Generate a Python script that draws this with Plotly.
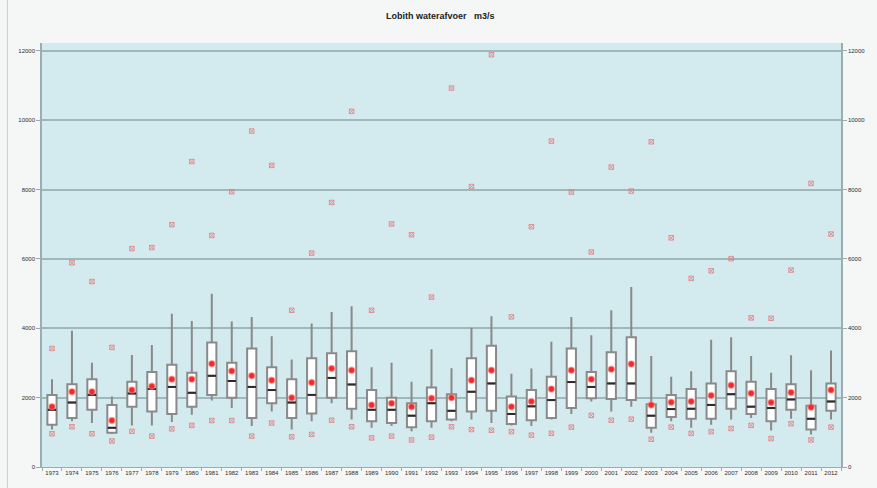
import plotly.graph_objects as go

# Yearly discharge statistics at Lobith (m3/s)
years = ["1973", "1974", "1975", "1976", "1977", "1978", "1979", "1980", "1981", "1982",
         "1983", "1984", "1985", "1986", "1987", "1988", "1989", "1990", "1991", "1992",
         "1993", "1994", "1995", "1996", "1997", "1998", "1999", "2000", "2001", "2002",
         "2003", "2004", "2005", "2006", "2007", "2008", "2009", "2010", "2011", "2012"]

whisker_high = [2530, 3930, 3010, 2030, 3230, 3520, 4420, 4210, 5000, 4200,
                4330, 3770, 3100, 4140, 4470, 4640, 2880, 3010, 2460, 3400,
                2850, 4020, 4350, 2690, 2840, 3610, 4330, 3800, 4520, 5190,
                3200, 2600, 2760, 3670, 3740, 3200, 2720, 3220, 2790, 3360]
upper_quartile = [2080, 2390, 2530, 1790, 2460, 2740, 2950, 2720, 3590, 3010,
                  3420, 2880, 2530, 3140, 3280, 3340, 2220, 2000, 1840, 2290,
                  2100, 3140, 3500, 2030, 2220, 2600, 3420, 2740, 3310, 3740,
                  1810, 2080, 2250, 2410, 2760, 2460, 2250, 2390, 1770, 2410]
median = [1650, 1860, 2080, 1130, 2120, 2250, 2310, 2140, 2630, 2480,
          2310, 2220, 1860, 2080, 2570, 2380, 1650, 1650, 1480, 1840,
          1620, 2170, 2410, 1530, 1750, 1930, 2450, 2310, 2410, 2410,
          1480, 1670, 1680, 1790, 2100, 1740, 1700, 1950, 1390, 1890]
lower_quartile = [1220, 1410, 1650, 990, 1740, 1600, 1530, 1740, 2080, 2000,
                  1410, 1840, 1410, 1540, 2000, 1680, 1320, 1270, 1150, 1320,
                  1370, 1600, 1620, 1240, 1350, 1410, 1700, 1980, 1960, 1930,
                  1130, 1440, 1390, 1390, 1680, 1530, 1320, 1650, 1080, 1620]
whisker_low = [1080, 1320, 1270, 950, 1200, 1200, 1300, 1510, 1920, 1700,
               1180, 1600, 1080, 1320, 1840, 1370, 1130, 1180, 1030, 1130,
               1320, 1370, 1270, 1200, 1180, 1370, 1530, 1890, 1600, 1740,
               990, 1320, 1130, 1220, 1370, 1410, 1050, 1390, 940, 1370]
mean = [1740, 2170, 2170, 1340, 2220, 2330, 2530, 2530, 2980, 2770,
        2630, 2500, 2000, 2440, 2840, 2790, 1790, 1840, 1740, 1980,
        2000, 2500, 2790, 1740, 1890, 2250, 2790, 2530, 2820, 2970,
        1790, 1870, 1890, 2060, 2360, 2130, 1860, 2150, 1720, 2220]
year_min = [960, 1160, 960, 750, 1030, 890, 1100, 1200, 1340, 1340,
            890, 1270, 870, 940, 1350, 1160, 840, 890, 780, 860,
            1160, 1080, 1060, 1020, 920, 970, 1150, 1490, 1350, 1380,
            800, 1150, 970, 1020, 1110, 1200, 820, 1250, 780, 1150]
year_max = [3420, 5890, 5350, 3450, 6300, 6330, 6990, 8810, 6680, 7940,
            9690, 8700, 4520, 6170, 7630, 10260, 4520, 7010, 6700, 4900,
            10930, 8090, 11890, 4330, 6930, 9400, 7930, 6200, 8650, 7960,
            9380, 6610, 5440, 5660, 6010, 4300, 4290, 5680, 8180, 6720]

y_ticks = [0, 2000, 4000, 6000, 8000, 10000, 12000]
y_labels = ["0", "2000", "4000", "6000", "8000", "10000", "12000"]
y_range = [0, 12230]

tick_font = dict(family="Liberation Sans, Arial, sans-serif", size=6, color="#2e2e2e")

fig = go.Figure()

fig.add_trace(go.Box(
    x=years,
    q1=lower_quartile, median=median, q3=upper_quartile,
    lowerfence=whisker_low, upperfence=whisker_high,
    fillcolor="white",
    line=dict(color="#8a8a8a", width=2),
    whiskerwidth=0,
    width=0.46,
    boxpoints=False,
    hoverinfo="skip",
    showlegend=False,
))

# median dash
fig.add_trace(go.Scatter(
    x=years, y=median, mode="markers",
    marker=dict(symbol="line-ew", size=6, line=dict(color="#2a2a2a", width=2)),
    hoverinfo="skip", showlegend=False,
))

# yearly mean
fig.add_trace(go.Scatter(
    x=years, y=mean, mode="markers",
    marker=dict(symbol="circle", size=6, color="#f02a2a",
                line=dict(color="rgba(255,120,120,0.5)", width=1.5)),
    hoverinfo="skip", showlegend=False,
))

# yearly minimum and maximum
for vals in (year_min, year_max):
    fig.add_trace(go.Scatter(
        x=years, y=vals, mode="markers",
        marker=dict(symbol="square-x-open", size=4.5, color="rgba(228,120,120,0.75)",
                    line=dict(width=1)),
        hoverinfo="skip", showlegend=False,
    ))

# right-hand axis copy
fig.add_trace(go.Scatter(
    x=years, y=mean, yaxis="y2", mode="markers",
    marker=dict(opacity=0), hoverinfo="skip", showlegend=False,
))

fig.update_layout(
    width=877, height=488,
    margin=dict(l=42, r=28, t=43, b=15),
    paper_bgcolor="#f4f7f6",
    plot_bgcolor="#d3eaee",
    title=dict(text="<b>Lobith waterafvoer   m3/s</b>",
               x=0.502, xanchor="center", y=0.967, yanchor="middle",
               font=dict(family="Liberation Sans, Arial, sans-serif", size=9, color="#222222")),
    xaxis=dict(
        type="category", range=[-0.5, 39.5],
        showgrid=False, showline=True, linecolor="#9aaeb2", linewidth=1,
        ticks="outside", tickson="boundaries", ticklen=3, tickcolor="#9aaeb2",
        tickfont=tick_font, tickangle=0, fixedrange=True,
    ),
    yaxis=dict(
        range=y_range, tickvals=y_ticks, ticktext=y_labels,
        showgrid=True, gridcolor="#9fb8bc", gridwidth=2,
        showline=True, linecolor="#9aaeb2", linewidth=1.5,
        ticks="outside", ticklen=4, tickcolor="#9aaeb2",
        tickfont=tick_font, zeroline=False,
    ),
    yaxis2=dict(
        range=y_range, tickvals=y_ticks, ticktext=y_labels, overlaying="y", side="right",
        showgrid=False, showline=True, linecolor="#9aaeb2", linewidth=1.5,
        ticks="outside", ticklen=4, tickcolor="#9aaeb2",
        tickfont=tick_font, zeroline=False,
    ),
    shapes=[dict(type="line", xref="paper", yref="paper",
                 x0=-35 / 807, x1=-35 / 807, y0=-1, y1=2,
                 line=dict(color="#c9cfcd", width=1))],
)

fig.write_html("out.html")
